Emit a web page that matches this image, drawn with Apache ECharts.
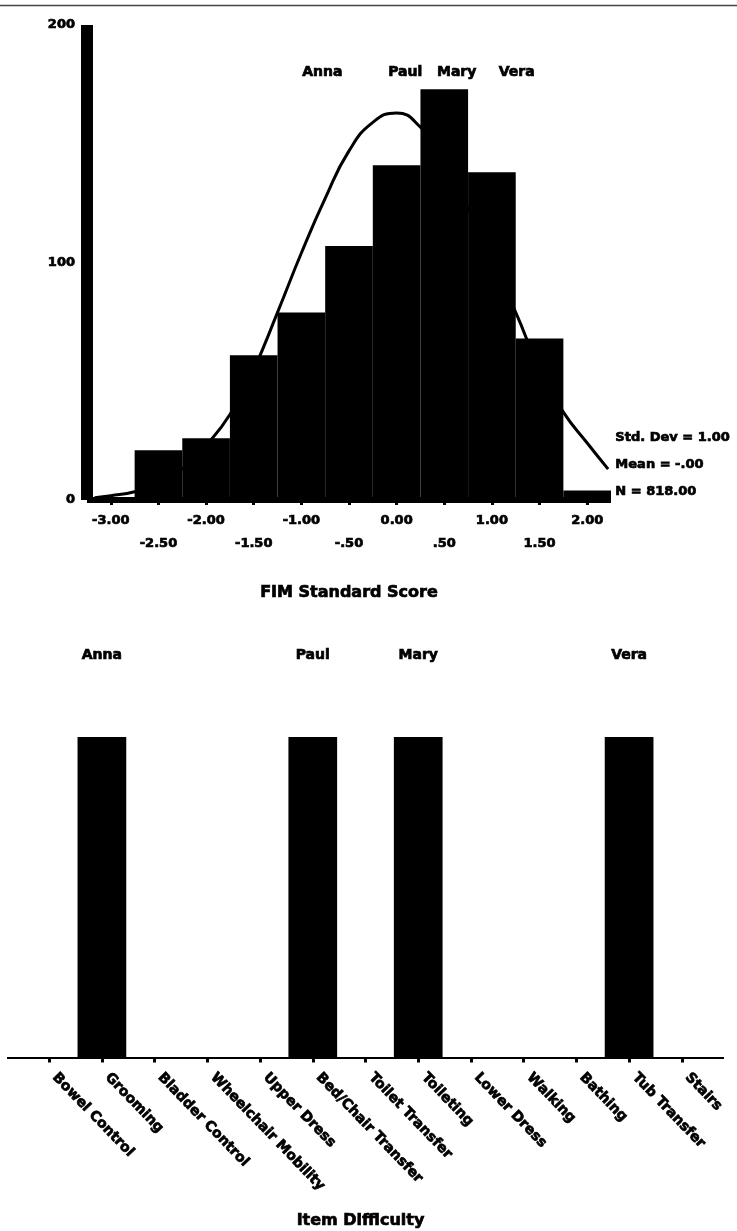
<!DOCTYPE html>
<html>
<head>
<meta charset="utf-8">
<script src="https://cdn.jsdelivr.net/npm/echarts@6/dist/echarts.min.js"></script>
<style>
  html, body { margin: 0; padding: 0; background: #ffffff; }
  #chart { width: 737px; height: 1231px; }
</style>
</head>
<body>
<div id="chart"></div>
<script>
// ---- Histogram of FIM standard scores (bin width 0.5) ----
const binCenters = [-2.5, -2.0, -1.5, -1.0, -0.5, 0.0, 0.5, 1.0, 1.5, 2.0];
const binCounts  = [21, 26, 61, 79, 107, 141, 173, 138, 68, 4];

// Fitted normal curve, traced along the score axis
const curveX = [-3.17, -3.0, -2.75, -2.5, -2.25, -2.0, -1.75, -1.5, -1.25, -1.0, -0.75, -0.5, -0.25, 0.0, 0.25, 0.5, 0.75, 1.0, 1.25, 1.5, 1.75, 2.0, 2.22];
const curveY = [1, 1.8, 3.5, 7, 13, 23, 36, 55, 79, 104, 127, 147, 159, 163, 157, 144, 123, 100, 79, 55, 37, 24, 13];

// Score axis ticks and their printed labels
const xTickValues = [-3.0, -2.5, -2.0, -1.5, -1.0, -0.5, 0.0, 0.5, 1.0, 1.5, 2.0];
const xTickLabels = ['-3.00', '-2.50', '-2.00', '-1.50', '-1.00', '-.50', '0.00', '.50', '1.00', '1.50', '2.00'];
const yTickValues = [0, 100, 200];
const yTickLabels = ['0', '100', '200'];

// Four example patients and their standard scores
const persons = ['Anna', 'Paul', 'Mary', 'Vera'];
const personScores = [-0.78, 0.09, 0.63, 1.26];

// Summary statistics printed beside the histogram
const statLines = ['Std. Dev = 1.00', 'Mean = -.00', 'N = 818.00'];

// ---- FIM items ordered by difficulty ----
const items = ['Bowel Control', 'Grooming', 'Bladder Control', 'Wheelchair Mobility', 'Upper Dress',
  'Bed/Chair Transfer', 'Toilet Transfer', 'Toileting', 'Lower Dress', 'Walking', 'Bathing',
  'Tub Transfer', 'Stairs'];
// Item at which each patient sits, in the same order as `persons`
const personItems = ['Grooming', 'Bed/Chair Transfer', 'Toileting', 'Tub Transfer'];
const personMarks = [1, 1, 1, 1];

// ---- layout ----
const FONT = 'DejaVu Sans';
const INK = '#000000';
const HEAVY = 0.7;        // thin outline that thickens the bold glyphs

const histGrid = { left: 87, top: 25, width: 524, height: 475 };
const X_MIN = -3.25, X_MAX = 2.25, BIN_WIDTH = 0.5;
const NAME_LEVEL = 180;   // height on the count axis where patient names sit

const itemGrid = { left: 7, top: 737, width: 717, height: 320.5 };
const I_MIN = -0.8, I_MAX = 12.8, ITEM_BAR = 0.924;

const histBarPx = histGrid.width / (X_MAX - X_MIN) * BIN_WIDTH;
const itemBarPx = itemGrid.width / (I_MAX - I_MIN) * ITEM_BAR;

const boldText = (size) => ({
  fontFamily: FONT, fontWeight: 'bold', fontSize: size, color: INK,
  textBorderColor: INK, textBorderWidth: HEAVY
});

const chart = echarts.init(document.getElementById('chart'), null, { renderer: 'canvas' });

chart.setOption({
  animation: false,
  backgroundColor: '#ffffff',
  grid: [
    Object.assign({ containLabel: false, outerBoundsMode: 'none' }, histGrid),
    Object.assign({ containLabel: false, outerBoundsMode: 'none' }, itemGrid)
  ],
  xAxis: [
    {
      gridIndex: 0, type: 'value', min: X_MIN, max: X_MAX,
      name: 'FIM Standard Score', nameLocation: 'middle', nameGap: 85,
      nameTextStyle: boldText(16),
      axisLine: { show: true, onZero: false, lineStyle: { color: INK, width: 6, cap: 'butt' } },
      axisTick: { show: true, customValues: xTickValues, length: 5, lineStyle: { color: INK, width: 3, cap: 'butt' } },
      axisLabel: Object.assign(boldText(13), {
        customValues: xTickValues, margin: 9, lineHeight: 23,
        formatter: (v) => {
          const i = xTickValues.findIndex(t => Math.abs(t - v) < 1e-6);
          if (i < 0) return '';
          return (i % 2 === 1 ? '\n' : '') + xTickLabels[i];
        }
      }),
      splitLine: { show: false }
    },
    {
      gridIndex: 1, type: 'value', min: I_MIN, max: I_MAX,
      name: 'Item Difficulty', nameLocation: 'middle', nameGap: 155,
      nameTextStyle: Object.assign(boldText(16), { padding: [0, 10, 0, 0] }),
      axisLine: { show: true, onZero: false, lineStyle: { color: INK, width: 2, cap: 'butt' } },
      axisTick: { show: true, customValues: items.map((_, i) => i), length: 5, lineStyle: { color: INK, width: 3, cap: 'butt' } },
      axisLabel: Object.assign(boldText(14), {
        customValues: items.map((_, i) => i), rotate: -46, margin: 12,
        padding: [0, 0, 0, 8],
        formatter: (v) => items[Math.round(v)] || ''
      }),
      splitLine: { show: false }
    }
  ],
  yAxis: [
    {
      gridIndex: 0, type: 'value', min: 0, max: 200, interval: 100,
      axisLine: { show: true, onZero: false, lineStyle: { color: INK, width: 12, cap: 'butt' } },
      axisTick: { show: false },
      axisLabel: Object.assign(boldText(13), {
        margin: 12,
        formatter: (v) => {
          const i = yTickValues.indexOf(v);
          return i < 0 ? '' : yTickLabels[i];
        }
      }),
      splitLine: { show: false }
    },
    {
      gridIndex: 1, type: 'value', min: 0, max: 1,
      show: false, splitLine: { show: false }
    }
  ],
  series: [
    {
      type: 'bar', xAxisIndex: 0, yAxisIndex: 0,
      barWidth: histBarPx,
      itemStyle: { color: INK },
      data: binCenters.map((c, i) => [c, binCounts[i]])
    },
    {
      type: 'line', xAxisIndex: 0, yAxisIndex: 0,
      smooth: true, symbol: 'none', z: 3,
      lineStyle: { color: INK, width: 3 },
      data: curveX.map((x, i) => [x, curveY[i]])
    },
    {
      type: 'scatter', xAxisIndex: 0, yAxisIndex: 0,
      symbolSize: 1, itemStyle: { color: 'rgba(0,0,0,0)', opacity: 1 }, silent: true,
      label: Object.assign(boldText(14), {
        show: true, position: 'inside',
        formatter: (p) => persons[p.dataIndex]
      }),
      data: personScores.map(s => [s, NAME_LEVEL])
    },
    {
      type: 'bar', xAxisIndex: 1, yAxisIndex: 1,
      barWidth: itemBarPx,
      itemStyle: { color: INK },
      label: Object.assign(boldText(14), {
        show: true, position: 'top', distance: 75,
        formatter: (p) => persons[p.dataIndex]
      }),
      data: personItems.map((name, i) => [items.indexOf(name), personMarks[i]])
    }
  ],
  graphic: [
    {
      type: 'line', silent: true,
      shape: { x1: 0, y1: 5.5, x2: 737, y2: 5.5 },
      style: { stroke: '#444444', lineWidth: 1.5 }
    },
    ...statLines.map((t, i) => ({
      type: 'text', silent: true,
      left: 615, top: 431 + i * 27,
      style: { text: t, font: 'bold 13px "' + FONT + '"', fill: INK, stroke: INK, lineWidth: HEAVY }
    }))
  ]
});
</script>
</body>
</html>
